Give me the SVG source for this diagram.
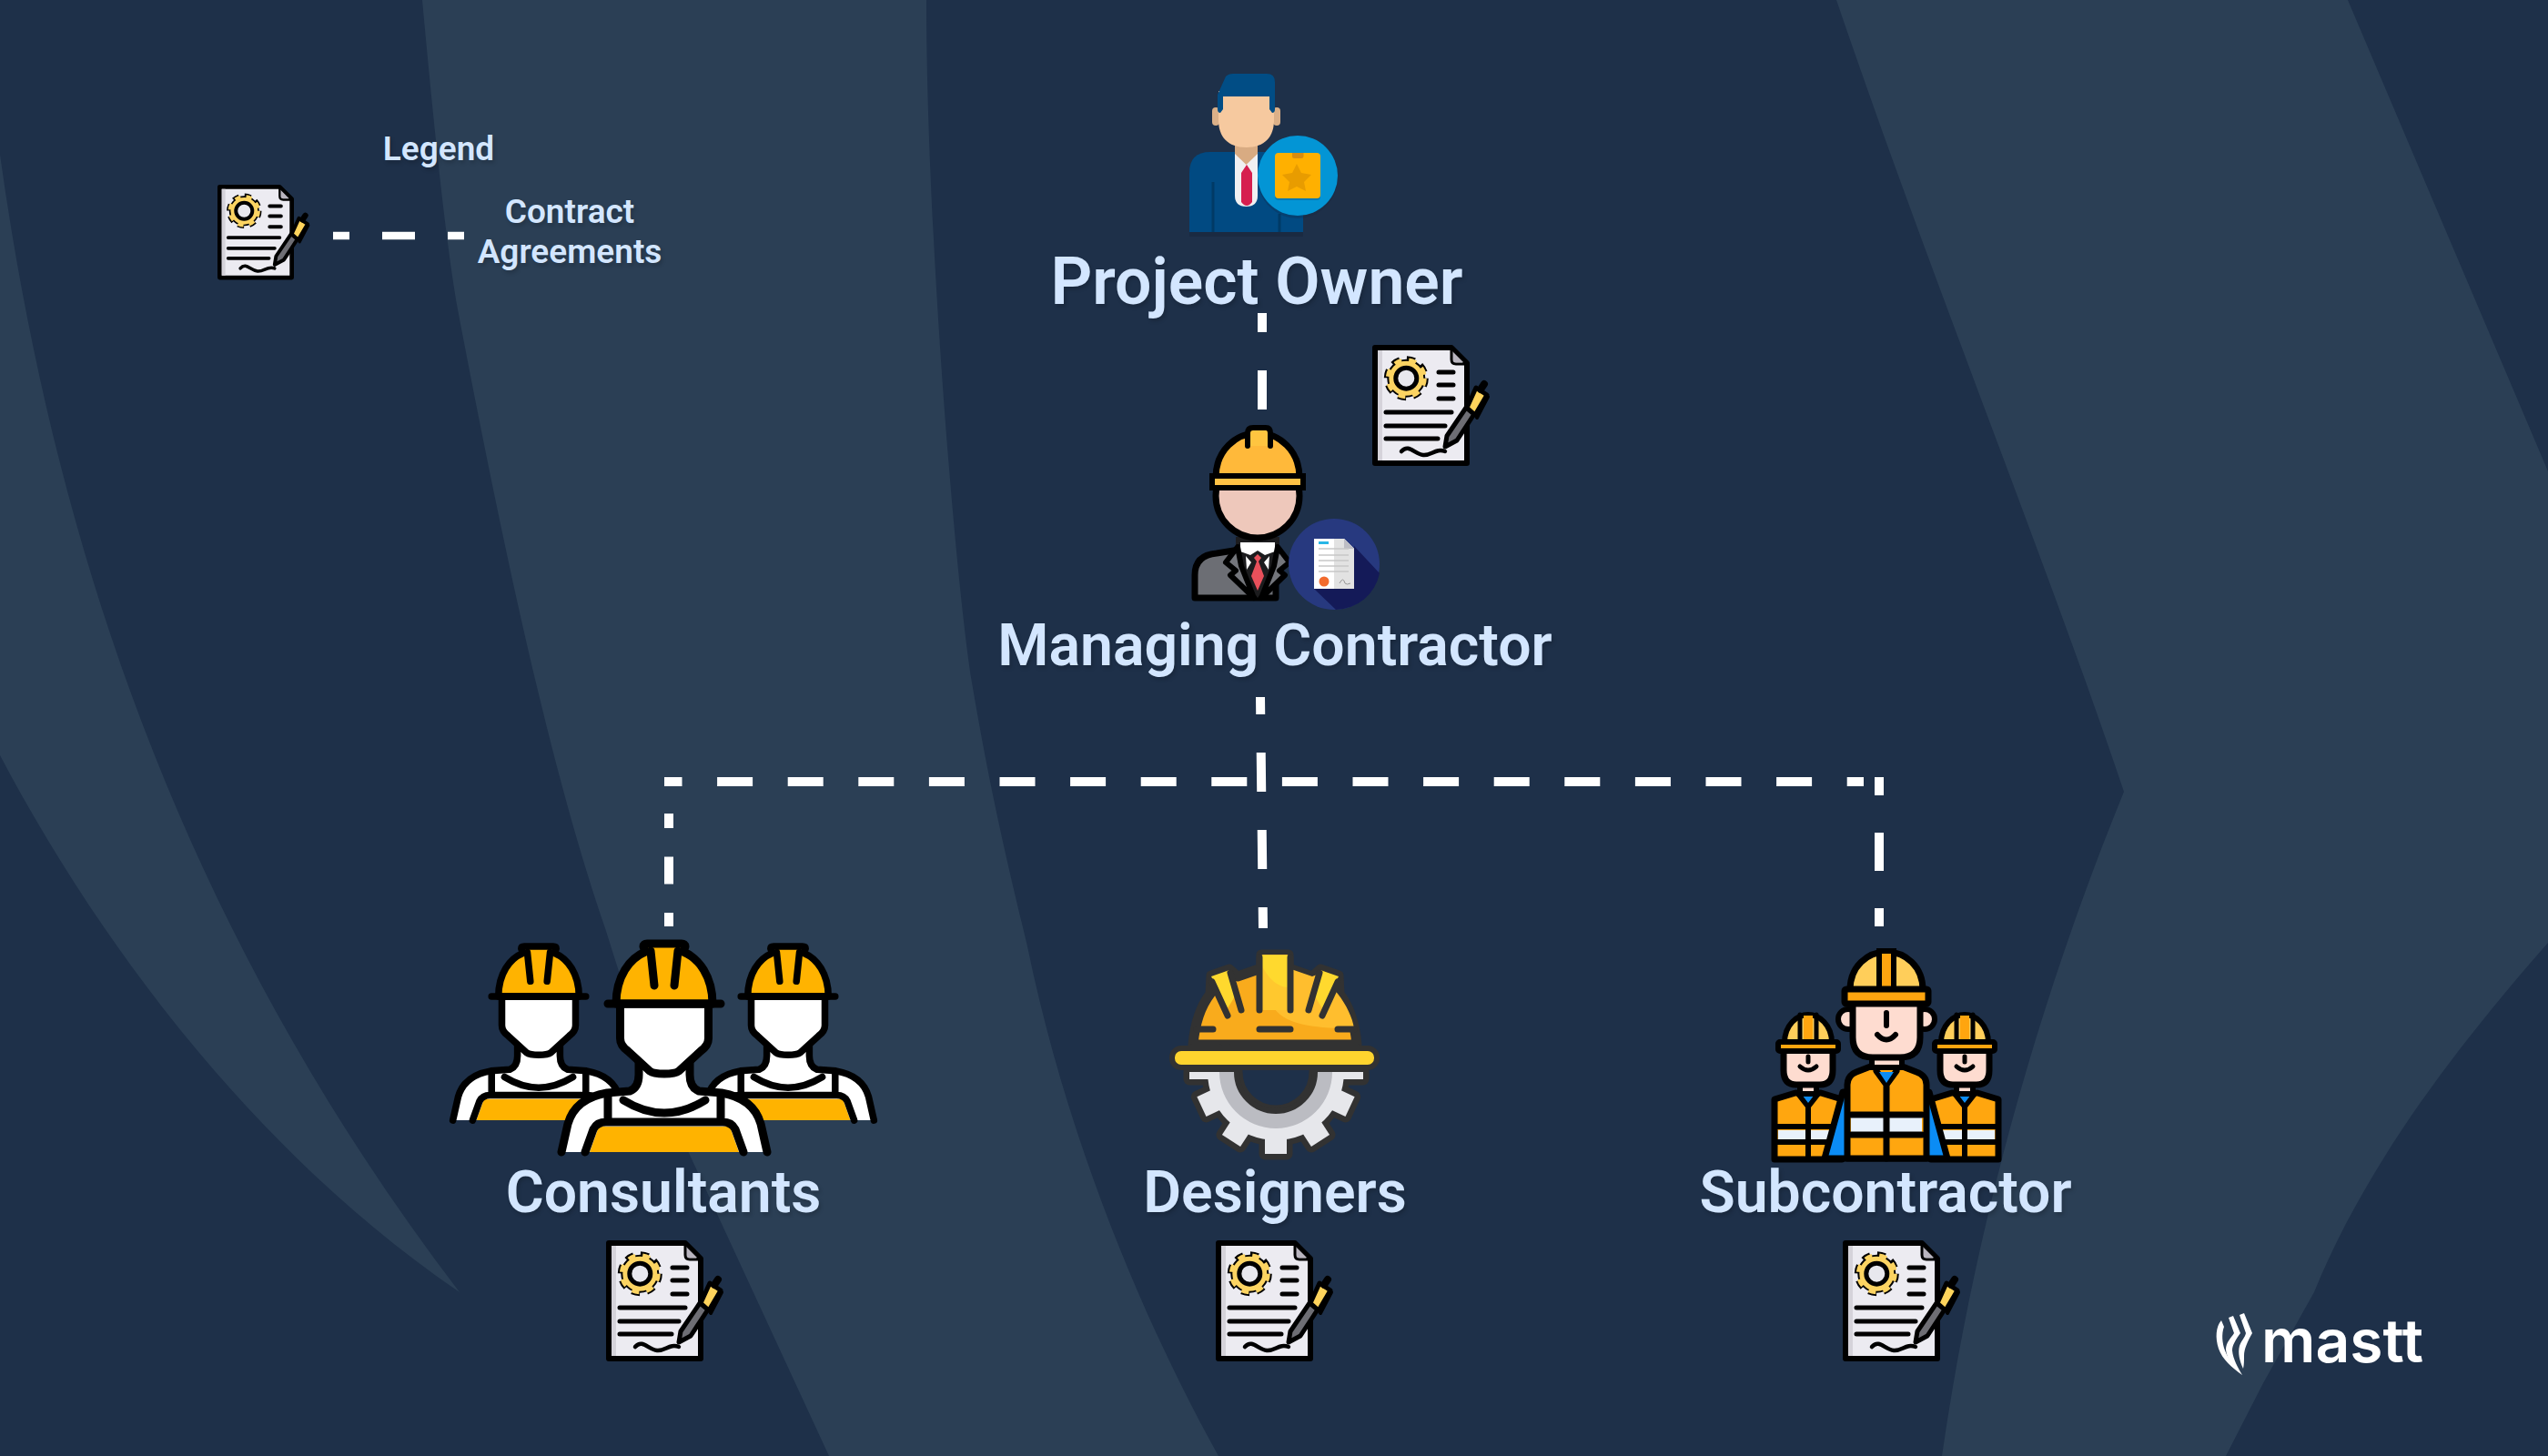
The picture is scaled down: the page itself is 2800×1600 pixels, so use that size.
<svg xmlns="http://www.w3.org/2000/svg" width="2800" height="1600" viewBox="0 0 2800 1600">
<style>
.lbl{font-family:Roboto,"Liberation Sans",sans-serif;font-weight:650;fill:#d3e6ff;text-anchor:middle;text-shadow:2px 3px 4px rgba(0,0,0,.18)}
.h1{font-size:71.500px}.h2{font-size:64.300px}.h3{font-size:37px}
.dash{fill:none;stroke:#fff;stroke-width:10}
.blk{fill:none;stroke:#000;stroke-linecap:round;stroke-linejoin:round}
.dk{fill:none;stroke:#323232;stroke-linecap:round;stroke-linejoin:round}
</style>
<defs>
<g id="doc">
<path d="M3 3H87L104 20V130H3Z" fill="#ecebf1" stroke="#000" stroke-width="6" stroke-linejoin="round"/>
<path d="M6 6h5v121h-5z" fill="#d5d3da"/>
<path d="M88 7L100 19H91Q88 19 88 16Z" fill="#b9b5bf"/>
<path d="M87 3V16Q87 21 92 21H104" class="blk" stroke-width="3"/>
<circle cx="37.300" cy="36.700" r="20.500" fill="none" stroke="#000" stroke-width="8" stroke-dasharray="8.500 7.600"/>
<circle cx="37.300" cy="36.700" r="20" fill="#fcd462" stroke="#000" stroke-width="2"/>
<circle cx="37.300" cy="36.700" r="20" fill="none" stroke="#fcd462" stroke-width="5" stroke-dasharray="8 8.100"/>
<circle cx="37.300" cy="36.700" r="11.500" fill="#e8e8ee" stroke="#000" stroke-width="5"/>
<path d="M73 30H89M73 44H89M73 59H89M15 74H87M15 89H80M15 103H72" class="blk" stroke-width="5"/>
<path d="M32 117C40 108 46 120 56 121C65 122 70 113 80 117" class="blk" stroke-width="4.500"/>
<path d="M80 112L82 100L103 69L112 76L93 105Z" fill="#6e6e74" stroke="#000" stroke-width="5" stroke-linejoin="round"/>
<path d="M104 69L114 47L126 55L113 77Z" fill="#ffd45c" stroke="#000" stroke-width="5" stroke-linejoin="round"/>
<path d="M119 49L123 43" class="blk" stroke-width="8"/>
<path d="M127 57L115 80" class="blk" stroke-width="4"/>
</g>
<g id="worker">
<path d="M-113 163L-106 132Q-98 104-63 98L-30 96L-26 68H26L30 96L63 98Q98 104 106 132L113 163Z" fill="#fff"/>
<path d="M-82 163L-72 135H72L82 163Z" fill="#ffb300"/>
<path d="M-113 163L-106 132Q-98 104-63 98L-38 96Q-28 92-28 78V62M113 163L106 132Q98 104 63 98L38 96Q28 92 28 78V62" class="blk" stroke-width="9"/>
<path d="M-87 163L-78 138Q-74 130-64 130H64Q74 130 78 138L87 163M-62 100V130M62 100V130M-45 106Q0 134 45 106" class="blk" stroke-width="9"/>
<path d="M-48.500 0V38Q-48.500 46-40 52L-16 74Q-12 77 0 77Q12 77 16 74L40 52Q48.500 46 48.500 38V0Z" fill="#fff" stroke="#000" stroke-width="9" stroke-linejoin="round"/>
<path d="M-53 0C-53-30-38-50-21-57L-23-63Q-23-66-19-66H19Q23-66 23-63L21-57C38-50 53-30 53 0Z" fill="#ffb300" stroke="#000" stroke-width="9" stroke-linejoin="round"/>
<path d="M-62 0H62M-15-58L-11-20M15-58L11-20" class="blk" stroke-width="9"/>
</g>
<g id="gearshape">
<path d="M1327 1178A75 75 0 0 0 1477 1178H1445A43 43 0 0 1 1359 1178Z"/>
<rect x="1390" y="1230" width="24" height="38"/>
<rect x="1390" y="1230" width="24" height="38" transform="rotate(33 1402 1178)"/>
<rect x="1390" y="1230" width="24" height="38" transform="rotate(-33 1402 1178)"/>
<rect x="1390" y="1230" width="24" height="38" transform="rotate(65 1402 1178)"/>
<rect x="1390" y="1230" width="24" height="38" transform="rotate(-65 1402 1178)"/>
<rect x="1307" y="1178" width="40" height="8"/>
<rect x="1458" y="1178" width="40" height="8"/>
</g>
<g id="crew">
<path d="M-37 62L-14 55H14L37 62V128H-37Z" fill="#ffa60f" stroke="#000" stroke-width="7" stroke-linejoin="round"/>
<path d="M-33 96H33V106H-33Z" fill="#e8f1fb"/>
<path d="M-34 92H34M-34 109H34M0 70V128M-11 56L0 70L11 56" class="blk" stroke-width="6"/>
<path d="M-6 58H6L0 66Z" fill="#0b8cf5"/>
<path d="M-9 44H9V56H-9Z" fill="#fedcd0" stroke="#000" stroke-width="6"/>
<path d="M-27 8H27V30Q27 46 13 46H-13Q-27 46-27 30Z" fill="#fedcd0" stroke="#000" stroke-width="7" stroke-linejoin="round"/>
<path d="M-26 0C-26-20-12-31 0-31C12-31 26-20 26 0Z" fill="#ffce5a" stroke="#000" stroke-width="6"/>
<path d="M-5-30H5V0H-5Z" fill="#ffa50f"/>
<path d="M-9-31V-2M9-31V-2" class="blk" stroke-width="5"/>
<rect x="-33" y="-1" width="66" height="10" rx="2" fill="#ffa50f" stroke="#000" stroke-width="6"/>
<path d="M0 15V21M-9 26Q0 34 9 26" class="blk" stroke-width="5"/>
</g>
</defs>

<rect width="2800" height="1600" fill="#1e3049"/>
<g id="background" fill="#2b3f55">
<path d="M464 0C475 120 490 270 503 340C560 640 610 860 665 1020C690 1100 720 1190 757 1267L911 1600H1339C1250 1440 1170 1240 1129 1040C1110 960 1090 880 1068 750C1050 640 1018 250 1018 0Z"/>
<path d="M0 170C60 600 200 1020 505 1420C270 1260 100 1020 0 830Z"/>
<path d="M2018 0C2120 300 2250 620 2334 870C2240 1100 2170 1350 2134 1600H2446L2487 1520L2543 1420C2600 1280 2700 1150 2800 1036V518L2580 0Z"/>
</g>

<g id="connectors">
<path class="dash" d="M366 259H511" style="stroke-width:8.500px;stroke-dasharray:18 36 36 36 18"/>
<path class="dash" d="M1387 344V450" style="stroke-dasharray:43 42;stroke-dashoffset:22"/>
<path class="dash" d="M1385 766L1388 1020" style="stroke-dasharray:43 42;stroke-dashoffset:24"/>
<path class="dash" d="M730 859H2048" style="stroke-dasharray:39 38.600;stroke-dashoffset:19.500"/>
<path class="dash" d="M735 894V1018" style="stroke-dasharray:30 31.500;stroke-dashoffset:14"/>
<path class="dash" d="M2065 854V1018" style="stroke-dasharray:42 41;stroke-dashoffset:22"/>
</g>

<g id="legend">
<use href="#doc" transform="translate(239 203) scale(.785)"/>
<text class="lbl h3" x="482" y="176">Legend</text>
<text class="lbl h3" x="626" y="245">Contract</text>
<text class="lbl h3" x="626" y="289">Agreements</text>
</g>

<g id="project-owner">
<path d="M1307 255V190Q1307 167 1330 167H1410Q1432 170 1432 190V255Z" fill="#014a82"/>
<rect x="1307" y="255" width="125" height="5" fill="#16243a" opacity=".5"/>
<path d="M1333 200V255M1406 235V255" stroke="#013a66" stroke-width="3" fill="none"/>
<path d="M1357 167H1382V215Q1382 227 1369.500 227Q1357 227 1357 215Z" fill="#f0f0f2"/>
<path d="M1357 157H1382V169L1369.500 181L1357 169Z" fill="#d8ab82"/>
<path d="M1370 181L1376 190V222Q1370 230 1364 222V190Z" fill="#d61f4f"/>
<rect x="1332" y="118" width="8" height="20" rx="4" fill="#dbb088"/>
<rect x="1399" y="118" width="8" height="20" rx="4" fill="#dbb088"/>
<path d="M1339 100H1400V132C1400 150 1390 162 1369.500 162C1349 162 1339 150 1339 132Z" fill="#f6c99f"/>
<path d="M1338 104L1347 84Q1350 81 1355 81H1392Q1401 81 1401 90V120Q1401 124 1398 124L1395 120V106H1344V120L1341 124Q1338 124 1338 120Z" fill="#014d85"/>
<circle cx="1426" cy="196" r="44" fill="#16243a" opacity=".25"/>
<circle cx="1426" cy="193" r="44" fill="#0395d5"/>
<rect x="1401" y="170" width="50" height="50" rx="4" fill="#0179b4"/>
<rect x="1401" y="168" width="50" height="50" rx="4" fill="#ffb000"/>
<path d="M1420 168H1432.500V172Q1432.500 174 1430 174H1422Q1420 174 1420 172Z" fill="#d88c10"/>
<path d="M1425 180L1430 190L1441 192L1433 200L1435 210L1425 205L1415 210L1417 200L1409 192L1420 190Z" fill="#e89c00"/>
<text class="lbl h1" x="1381" y="334">Project Owner</text>
<use href="#doc" transform="translate(1508 379)"/>
</g>

<g id="managing-contractor">
<path d="M1313 657V632Q1313 610 1337 608L1362 604H1402V657Z" fill="#6c6e74" stroke="#000" stroke-width="7" stroke-linejoin="round"/>
<path d="M1358 590H1406V625L1382 657L1358 625Z" fill="#1c1c1e"/>
<path d="M1363 596H1401V606L1390 610L1382 605L1374 610L1363 606Z" fill="#fff"/>
<path d="M1369 611L1375 618L1370 626ZM1395 611L1389 618L1394 626Z" fill="#fff"/>
<path d="M1382 609L1386 613L1383 617L1389 633L1382 649L1375 633L1381 617L1378 613Z" fill="#e8505b"/>
<path d="M1360 601L1347 618L1358 627L1352 632L1378 657L1364 622Z" fill="#74767c" stroke="#000" stroke-width="6" stroke-linejoin="round"/>
<path d="M1404 601L1417 618L1406 627L1412 632L1386 657L1400 622Z" fill="#74767c" stroke="#000" stroke-width="6" stroke-linejoin="round"/>
<circle cx="1382" cy="545" r="46" fill="#eec8bb" stroke="#000" stroke-width="7"/>
<path d="M1336 525C1336 495 1358 476 1382 476C1406 476 1428 495 1428 525Z" fill="#ffb93a" stroke="#000" stroke-width="7"/>
<path d="M1371 490V476Q1371 470 1377 470H1391Q1396 470 1396 476V490" fill="#ffc540" stroke="#000" stroke-width="6" stroke-linecap="round" stroke-linejoin="round"/>
<rect x="1332" y="523" width="100" height="13" fill="#ffc245" stroke="#000" stroke-width="6"/>
<circle cx="1466" cy="620" r="50" fill="#27397f"/>
<path d="M1488 600L1516 630A50 50 0 0 1 1468 670L1444 647L1488 647Z" fill="#141a58"/>
<path d="M1444 592H1477L1488 603V647H1444Z" fill="#fff"/>
<path d="M1466 592H1477L1488 603V647H1466Z" fill="#e2e2e2"/>
<path d="M1477 592L1488 603H1477Z" fill="#bdbdc4"/>
<rect x="1449" y="595" width="11" height="3" fill="#29b6e6"/>
<path d="M1449 603H1482M1449 610H1482M1449 616H1482M1449 622H1482M1449 628H1482" stroke="#c8c8c8" stroke-width="1.500"/>
<circle cx="1455" cy="639" r="5.500" fill="#f26b2e"/>
<path d="M1472 641q4-8 6 0q2 2 6 0" fill="none" stroke="#9a9a9a"/>
<text class="lbl h2" x="1401" y="731">Managing Contractor</text>
</g>

<g id="consultants">
<use href="#worker" transform="translate(592 1095) scale(.835)"/>
<use href="#worker" transform="translate(866 1095) scale(.835)"/>
<use href="#worker" transform="translate(730 1103)"/>
<text class="lbl h2" x="729" y="1332">Consultants</text>
<use href="#doc" transform="translate(666 1363)"/>
</g>

<g id="designers">
<use href="#gearshape" fill="#323232" stroke="#323232" stroke-width="13" stroke-linejoin="round"/>
<use href="#gearshape" fill="#e6e7eb"/>
<path d="M1340 1178A62 62 0 0 0 1464 1178H1445A43 43 0 0 1 1359 1178Z" fill="#bbbcc2"/>
<path d="M1359 1178A43 43 0 0 0 1445 1178" class="dk" stroke-width="6"/>
<path d="M1311 1148C1313 1125 1320 1105 1330 1092L1331 1072L1351 1065L1360 1073L1386 1064V1049H1416V1064L1442 1073L1451 1065L1471 1072L1472 1092C1482 1105 1489 1125 1491 1148Z" fill="#f9ab1c" stroke="#323232" stroke-width="11" stroke-linejoin="round"/>
<path d="M1400 1108H1416V1064L1442 1073L1450 1070L1470 1092C1480 1105 1486 1118 1488 1130C1450 1130 1415 1128 1400 1108Z" fill="#ffbe2e"/>
<path d="M1331 1073L1351 1066L1357 1095L1349 1108Z" fill="#ffd92e"/>
<path d="M1471 1073L1451 1066L1445 1095L1453 1108Z" fill="#ffd92e"/>
<rect x="1386" y="1049" width="30" height="61" rx="2" fill="#ffc82e"/>
<path d="M1386 1050H1416V1085C1402 1085 1392 1072 1386 1060Z" fill="#ffd92e"/>
<path d="M1332 1079L1349 1116M1352 1069L1364 1110M1470 1079L1453 1116M1450 1069L1438 1110M1384 1052V1110M1418 1052V1110M1315 1131H1333M1384 1131H1418M1470 1131H1488M1310 1151H1340M1352 1151H1492" class="dk" stroke-width="7"/>
<rect x="1288" y="1152" width="225" height="21" rx="10" fill="#ffd42e" stroke="#323232" stroke-width="6"/>
<text class="lbl h2" x="1401" y="1332">Designers</text>
<use href="#doc" transform="translate(1336 1363)"/>
</g>

<g id="subcontractor">
<use href="#crew" transform="translate(1987 1146)"/>
<use href="#crew" transform="translate(2159 1146)"/>
<path d="M2025 1200L2005 1273H2140L2120 1200Z" fill="#0b8cf5" stroke="#000" stroke-width="7" stroke-linejoin="round"/>
<path d="M2030 1273V1192Q2030 1182 2040 1178L2058 1171H2088L2106 1178Q2117 1182 2117 1192V1273Z" fill="#ffa60f" stroke="#000" stroke-width="7" stroke-linejoin="round"/>
<path d="M2034 1228H2112V1244H2034Z" fill="#e8f1fb"/>
<path d="M2034 1225H2112M2034 1247H2112M2073 1192V1273M2062 1177L2073 1192L2084 1177" class="blk" stroke-width="7"/>
<path d="M2065 1178H2081L2073 1190Z" fill="#0b8cf5"/>
<path d="M2057 1160H2090V1173H2057Z" fill="#fedcd0" stroke="#000" stroke-width="6"/>
<circle cx="2031" cy="1120" r="11" fill="#fedcd0" stroke="#000" stroke-width="6"/>
<circle cx="2115" cy="1120" r="11" fill="#fedcd0" stroke="#000" stroke-width="6"/>
<path d="M2036 1100H2110V1140Q2110 1162 2088 1162H2058Q2036 1162 2036 1140Z" fill="#fedcd0" stroke="#000" stroke-width="7" stroke-linejoin="round"/>
<path d="M2033 1088C2033 1062 2052 1046 2073 1046C2094 1046 2113 1062 2113 1088Z" fill="#ffce5a" stroke="#000" stroke-width="7"/>
<path d="M2065 1045H2081V1088H2065Z" fill="#ffa50f" stroke="#000" stroke-width="6"/>
<rect x="2027" y="1087" width="92" height="16" rx="2" fill="#ffa50f" stroke="#000" stroke-width="7"/>
<path d="M2073 1113V1127M2063 1137Q2073 1148 2083 1137" class="blk" stroke-width="6"/>
<text class="lbl h2" x="2072" y="1332">Subcontractor</text>
<use href="#doc" transform="translate(2025 1363)"/>
</g>

<g id="logo" fill="#fff">
<path d="M2441 1451L2444 1458C2441 1466 2442 1476 2445 1484C2449 1495 2457 1503 2464 1511C2453 1503 2442 1494 2438 1482C2434 1470 2435 1458 2441 1451Z"/>
<path d="M2449 1448L2454 1446L2462 1465C2457 1472 2453 1478 2453 1484C2454 1494 2459 1502 2464 1511C2456 1504 2447 1495 2446 1483C2446 1475 2452 1470 2455 1465Z"/>
<path d="M2461 1445L2466 1443L2475 1465C2470 1474 2466 1482 2466 1490C2466 1495 2466 1500 2465 1504C2461 1495 2459 1487 2461 1479C2463 1473 2467 1470 2468 1465Z"/>
<text x="2485" y="1497" style="font-family:Inter,'Liberation Sans',sans-serif;font-weight:600;font-size:66px">mastt</text>
</g>
</svg>
